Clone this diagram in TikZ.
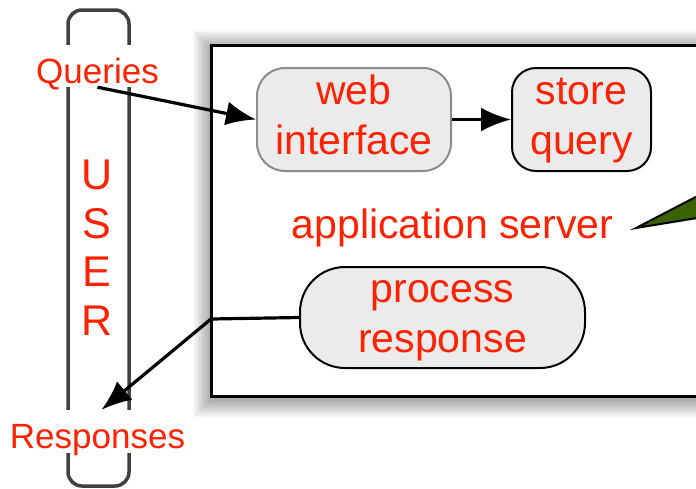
\documentclass[tikz,border=0pt]{standalone}
\usepackage{fontspec}
\setmainfont{Liberation Sans}
\usetikzlibrary{arrows.meta}
\definecolor{lblred}{RGB}{255,34,0}
\definecolor{boxfill}{RGB}{235,235,235}
\definecolor{calloutgreen}{RGB}{58,98,0}
\begin{document}
\begin{tikzpicture}[x=1pt,y=-1pt,
  stage/.style={draw, fill=boxfill, line width=2pt, inner sep=0pt, align=center,
    text=lblred, font=\fontsize{41}{50}\selectfont},
  flow/.style={line width=3.2pt, -{Latex[length=30pt,width=24pt]}},
  endlabel/.style={fill=white, inner sep=2pt, text=lblred, font=\fontsize{35}{40}\selectfont}
]
\useasboundingbox (0,0) rectangle (696,488);

% soft shadow behind the server box
\foreach \i in {1,...,12}
  \fill[black, opacity=0.03] (211-1.5*\i, 48-1.5*\i) rectangle (740, 399+1.5*\i);
\draw[line width=3pt, fill=white] (211,45) rectangle (740,396);

% user column
\draw[line width=3.5pt, draw=black!75, rounded corners=14pt] (68,10) rectangle (129,486);
\node[text=lblred, font=\fontsize{43}{48.5}\selectfont, align=center] (user) at (97,252.7)
  {\strut U\\\strut S\\\strut E\\\strut R};
\node[endlabel, text height=36pt, text depth=2pt] (q) at (97.5,66) {Queries};
\node[endlabel, text height=36pt, text depth=3pt] (r) at (97.5,431.5) {Responses};

% server stages
\node[stage, draw=black!45, rounded corners=28pt, minimum width=194pt, minimum height=103pt]
  (web) at (354,119.5) {\strut web\\\strut interface};
\node[stage, rounded corners=24pt, minimum width=139pt, minimum height=103pt]
  (store) at (581.5,119.5) {\strut store\\\strut query};
\node[stage, rounded corners=45pt, minimum width=285pt, minimum height=101pt]
  (proc) at (442.5,317.5) {\strut process\\\strut response};
\node[text=lblred, font=\fontsize{41}{50}\selectfont, anchor=base] (app) at (452.5,238)
  {application server};

% callout pointer
\draw[line width=2pt, fill=calloutgreen, line join=miter] (636,228) -- (740,174) -- (740,211) -- cycle;

% flows
\coordinate (elbow) at (211,319);
\draw[flow] (q.south) -- (web.west);
\draw[flow] (web.east) -- (store.west);
\draw[flow] (proc.west) -- (elbow) -- ([xshift=4pt]r.north);
\end{tikzpicture}
\end{document}
